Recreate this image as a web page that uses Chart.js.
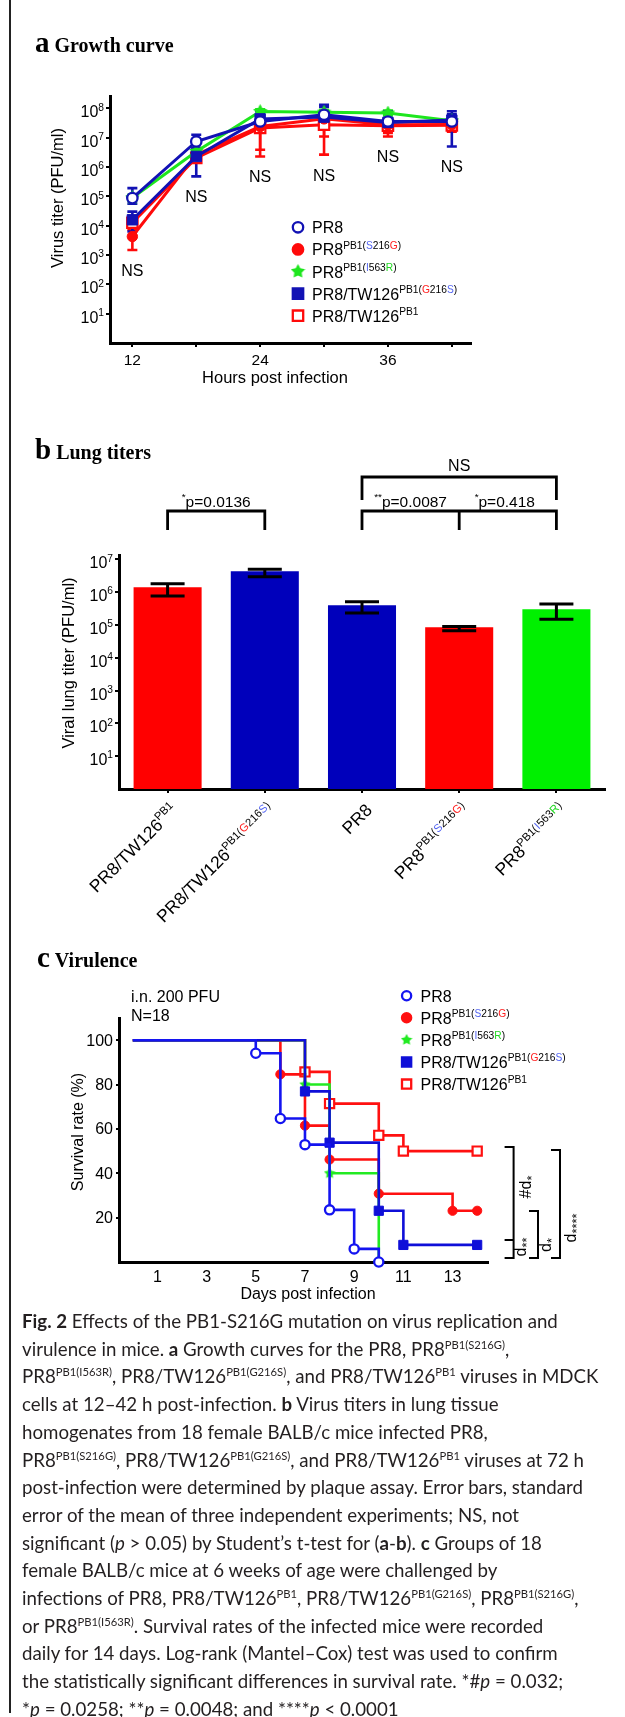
<!DOCTYPE html>
<html>
<head>
<meta charset="utf-8">
<title>Fig. 2</title>
<script src="https://cdn.jsdelivr.net/npm/chart.js@4.4.1/dist/chart.umd.min.js"></script>
<style>
  html, body { margin: 0; padding: 0; background: #fff; }
  body { position: relative; width: 625px; height: 1717px; overflow: hidden; }
  canvas { position: absolute; left: 0; }
  #frame { position: absolute; left: 9px; top: 0; width: 2px; height: 1713px; background: #222; }
  #caption { position: absolute; left: 22px; top: 1308px; margin: 0; font-family: Lato, "Open Sans", sans-serif;
             font-size: 18.7px; line-height: 27.7px; color: #231f20; white-space: pre; }
  #caption sup { font-size: 60%; line-height: 0; vertical-align: super; }
</style>
</head>
<body>
<div id="frame"></div>
<canvas id="growthChart" width="625" height="400" style="top:0px"></canvas>
<canvas id="lungChart" width="625" height="545" style="top:400px"></canvas>
<canvas id="survivalChart" width="625" height="365" style="top:945px"></canvas>
<div id="caption"><b>Fig. 2</b> Effects of the PB1-S216G mutation on virus replication and
virulence in mice. <b>a</b> Growth curves for the PR8, PR8<sup>PB1(S216G)</sup>,
PR8<sup>PB1(I563R)</sup>, PR8/TW126<sup>PB1(G216S)</sup>, and PR8/TW126<sup>PB1</sup> viruses in MDCK
cells at 12–42 h post-infection. <b>b</b> Virus titers in lung tissue
homogenates from 18 female BALB/c mice infected PR8,
PR8<sup>PB1(S216G)</sup>, PR8/TW126<sup>PB1(G216S)</sup>, and PR8/TW126<sup>PB1</sup> viruses at 72 h
post-infection were determined by plaque assay. Error bars, standard
error of the mean of three independent experiments; NS, not
significant (<i>p</i> &gt; 0.05) by Student’s t-test for (<b>a</b>-<b>b</b>). <b>c</b> Groups of 18
female BALB/c mice at 6 weeks of age were challenged by
infections of PR8, PR8/TW126<sup>PB1</sup>, PR8/TW126<sup>PB1(G216S)</sup>, PR8<sup>PB1(S216G)</sup>,
or PR8<sup>PB1(I563R)</sup>. Survival rates of the infected mice were recorded
daily for 14 days. Log-rank (Mantel–Cox) test was used to confirm
the statistically significant differences in survival rate. *#<i>p</i> = 0.032;
*<i>p</i> = 0.0258; **<i>p</i> = 0.0048; and ****<i>p</i> &lt; 0.0001</div>
<script>
// ---- panel a: growth curve, log10 titer (PFU/ml) per time point ----
const growthHours = [12, 18, 24, 30, 36, 42];
const hourTickLabels = ['12', '', '24', '', '36', ''];
const titerExponents = [1, 2, 3, 4, 5, 6, 7, 8];

const pr8Growth     = [4.94, 6.87, 7.55, 7.78, 7.55, 7.55];
const pr8GrowthLo   = [4.75, 6.65, 7.35, 7.45, 7.30, 7.30];
const pr8GrowthHi   = [5.28, 7.10, 7.75, 8.12, 7.89, 7.80];
const s216gGrowth   = [3.63, 6.42, 7.38, 7.64, 7.44, 7.45];
const s216gGrowthLo = [3.17, 6.28, 6.59, 7.04, 7.04, 7.20];
const s216gGrowthHi = [4.09, 6.56, 7.55, 7.80, 7.60, 7.60];
const i563rGrowth   = [4.95, 6.53, 7.89, 7.87, 7.84, 7.58];
const i563rGrowthLo = [4.85, 6.45, 7.80, 7.80, 7.76, 7.50];
const i563rGrowthHi = [5.05, 6.60, 7.97, 7.94, 7.92, 7.66];
const g216sGrowth   = [4.20, 6.36, 7.64, 7.70, 7.52, 7.60];
const g216sGrowthLo = [3.80, 5.68, 7.40, 7.30, 7.33, 6.70];
const g216sGrowthHi = [4.48, 6.60, 7.89, 8.05, 7.89, 7.90];
const tw126Growth   = [4.10, 6.31, 7.33, 7.44, 7.41, 7.42];
const tw126GrowthLo = [3.85, 6.25, 6.36, 6.42, 7.16, 7.25];
const tw126GrowthHi = [4.30, 6.64, 7.50, 7.60, 7.60, 7.60];

// ---- panel b: lung titers (PFU/ml) ----
const lungKeys   = ['PR8/TW126 PB1', 'PR8/TW126 PB1(G216S)', 'PR8', 'PR8 PB1(S216G)', 'PR8 PB1(I563R)'];
const lungTiter  = [1.4e6, 4.3e6, 4.0e5, 8.5e4, 3.0e5];
const lungErrLo  = [7.6e5, 2.95e6, 2.3e5, 6.6e4, 1.5e5];
const lungErrHi  = [1.8e6, 5.0e6, 5.1e5, 8.9e4, 4.3e5];
const lungExponents = [1, 2, 3, 4, 5, 6, 7];

// ---- panel c: survival (%) at each event day ----
const pr8Days    = [0, 5, 6, 7, 8, 9, 10];
const pr8Surv    = [100, 94.1, 64.7, 52.9, 23.5, 5.9, 0];
const s216gDays  = [0, 6, 7, 8, 10, 13, 14];
const s216gSurv  = [100, 84.6, 61.5, 46.2, 30.8, 23.1, 23.1];
const i563rDays  = [0, 7, 8, 10];
const i563rSurv  = [100, 80, 40, 0];
const g216sDays  = [0, 7, 8, 10, 11, 14];
const g216sSurv  = [100, 76.9, 53.8, 23.1, 7.7, 7.7];
const tw126Days  = [0, 7, 8, 10, 11, 14];
const tw126Surv  = [100, 85.7, 71.4, 57.1, 50, 50];
const survivalTicks = [20, 40, 60, 80, 100];
const dayTicks = [1, 3, 5, 7, 9, 11, 13];

// strain names, superscript parts given as [text, colour]
const SUP_BLUE = '#5566f2', SUP_RED = '#ff2020', SUP_GREEN = '#22d622';
const strainPR8   = ['PR8'];
const strainS216G = ['PR8', ['PB1('], ['S', SUP_BLUE], ['216'], ['G', SUP_RED], [')']];
const strainI563R = ['PR8', ['PB1('], ['I', SUP_BLUE], ['563'], ['R', SUP_GREEN], [')']];
const strainG216S = ['PR8/TW126', ['PB1('], ['G', SUP_RED], ['216'], ['S', SUP_BLUE], [')']];
const strainTW126 = ['PR8/TW126', ['PB1']];
const lungLabels  = [strainTW126, strainG216S, strainPR8, strainS216G, strainI563R];

const SANS = '"Liberation Sans", Arial, Helvetica, sans-serif';
const SERIF = '"Liberation Serif", "Times New Roman", serif';
Chart.defaults.font.family = SANS;

function drawRich(ctx, parts, x, y, size, align, color) {
  const runs = parts.map(p => {
    if (typeof p === 'string') return { t: p, c: null, s: size, dy: 0 };
    if (Array.isArray(p)) return { t: p[0], c: p[1] || null, s: size * 0.64, dy: -size * 0.42 };
    return { t: p.sub, c: null, s: size * 0.8, dy: size * 0.3 };
  });
  let w = 0;
  runs.forEach(r => { ctx.font = r.s + 'px ' + SANS; r.w = ctx.measureText(r.t).width; w += r.w; });
  let cx = align === 'right' ? x - w : align === 'center' ? x - w / 2 : x;
  ctx.textAlign = 'left';
  ctx.textBaseline = 'alphabetic';
  runs.forEach(r => {
    ctx.font = r.s + 'px ' + SANS;
    ctx.fillStyle = r.c || color || '#000';
    ctx.fillText(r.t, cx, y + r.dy);
    cx += r.w;
  });
}

function drawRotated(ctx, text, cx, cy, size) {
  ctx.save();
  ctx.translate(cx, cy);
  ctx.rotate(-Math.PI / 2);
  ctx.font = size + 'px ' + SANS;
  ctx.fillStyle = '#000';
  ctx.textAlign = 'center';
  ctx.textBaseline = 'middle';
  ctx.fillText(text, 0, 0);
  ctx.restore();
}

function drawPanelTitle(ctx, letter, text, x, baseline) {
  ctx.fillStyle = '#000';
  ctx.textAlign = 'left';
  ctx.textBaseline = 'alphabetic';
  ctx.font = 'bold 29px ' + SERIF;
  ctx.fillText(letter, x, baseline);
  const w = ctx.measureText(letter).width;
  ctx.font = 'bold 20px ' + SERIF;
  ctx.fillText(text, x + w + 5, baseline);
}

function makeStar(color, size) {
  const c = document.createElement('canvas');
  c.width = c.height = size;
  const g = c.getContext('2d');
  g.fillStyle = color;
  g.beginPath();
  for (let i = 0; i < 10; i++) {
    const a = -Math.PI / 2 + i * Math.PI / 5;
    const rr = i % 2 ? size * 0.26 : size * 0.5;
    g.lineTo(size / 2 + rr * Math.cos(a), size / 2 + rr * Math.sin(a));
  }
  g.closePath();
  g.fill();
  return c;
}

function pointOpts(marker, color, h, star) {
  switch (marker) {
    case 'openCircle':
      return { pointStyle: 'circle', pointRadius: h, pointBackgroundColor: '#fff', pointBorderColor: color, pointBorderWidth: 2.3 };
    case 'dot':
      return { pointStyle: 'circle', pointRadius: h, pointBackgroundColor: color, pointBorderColor: color, pointBorderWidth: 1 };
    case 'square':
      return { pointStyle: 'rect', pointRadius: h * 1.414, pointBackgroundColor: color, pointBorderColor: color, pointBorderWidth: 1 };
    case 'openSquare':
      return { pointStyle: 'rect', pointRadius: h * 1.414, pointBackgroundColor: '#fff', pointBorderColor: color, pointBorderWidth: 2.2 };
    default:
      return { pointStyle: star, pointRadius: h, pointBackgroundColor: color, pointBorderColor: color };
  }
}

function drawMarker(ctx, marker, x, y, h, color, star) {
  ctx.save();
  ctx.strokeStyle = color;
  ctx.fillStyle = color;
  ctx.lineWidth = 2.3;
  ctx.beginPath();
  if (marker === 'openCircle' || marker === 'dot') {
    ctx.arc(x, y, h, 0, Math.PI * 2);
    if (marker === 'openCircle') ctx.fillStyle = '#fff';
    ctx.fill();
    ctx.stroke();
  } else if (marker === 'square' || marker === 'openSquare') {
    ctx.rect(x - h, y - h, 2 * h, 2 * h);
    if (marker === 'openSquare') ctx.fillStyle = '#fff';
    ctx.fill();
    ctx.stroke();
  } else {
    ctx.drawImage(star, x - star.width / 2, y - star.height / 2);
  }
  ctx.restore();
}

function axisStyle(tickLength) {
  return {
    ticks: { display: false },
    grid: { display: tickLength > 0, drawOnChartArea: false, drawTicks: true, tickLength: tickLength, color: '#000', lineWidth: 2 },
    border: { display: true, color: '#000', width: 3 }
  };
}

// ================= panel a =================
const BLUE_A = '#1212b4', RED_A = '#ff0a0a', GREEN_A = '#1ee61e';
const starA = makeStar(GREEN_A, 15);
const growthSeries = [
  { name: strainPR8,   vals: pr8Growth,   lo: pr8GrowthLo,   hi: pr8GrowthHi,   color: BLUE_A,  marker: 'openCircle' },
  { name: strainG216S, vals: g216sGrowth, lo: g216sGrowthLo, hi: g216sGrowthHi, color: BLUE_A,  marker: 'square' },
  { name: strainI563R, vals: i563rGrowth, lo: i563rGrowthLo, hi: i563rGrowthHi, color: GREEN_A, marker: 'star' },
  { name: strainS216G, vals: s216gGrowth, lo: s216gGrowthLo, hi: s216gGrowthHi, color: RED_A,   marker: 'dot' },
  { name: strainTW126, vals: tw126Growth, lo: tw126GrowthLo, hi: tw126GrowthHi, color: RED_A,   marker: 'openSquare' }
];
const growthLegend = [growthSeries[0], growthSeries[3], growthSeries[2], growthSeries[1], growthSeries[4]];

const growthExtras = {
  id: 'growthExtras',
  beforeDatasetsDraw(chart) {
    const { ctx, scales: { x, y } } = chart;
    ctx.save();
    ctx.lineWidth = 2.6;
    growthSeries.slice().reverse().forEach(s => {
      ctx.strokeStyle = s.color;
      growthHours.forEach((h, i) => {
        const px = x.getPixelForValue(h);
        const y1 = y.getPixelForValue(10 ** s.lo[i]);
        const y2 = y.getPixelForValue(10 ** s.hi[i]);
        ctx.beginPath();
        ctx.moveTo(px, y1); ctx.lineTo(px, y2);
        ctx.moveTo(px - 5, y1); ctx.lineTo(px + 5, y1);
        ctx.moveTo(px - 5, y2); ctx.lineTo(px + 5, y2);
        ctx.stroke();
      });
    });
    ctx.restore();
  },
  afterDraw(chart) {
    const { ctx, scales: { x, y }, chartArea: area } = chart;
    ctx.save();
    drawPanelTitle(ctx, 'a', 'Growth curve', 35, 52);
    titerExponents.forEach(e => drawRich(ctx, ['10', [String(e)]], area.left - 6, y.getPixelForValue(10 ** e) + 9, 16, 'right'));
    ctx.font = '15.5px ' + SANS;
    ctx.fillStyle = '#000';
    ctx.textAlign = 'center';
    hourTickLabels.forEach((t, i) => { if (t) ctx.fillText(t, x.getPixelForValue(growthHours[i]), area.bottom + 22); });
    ctx.font = '16.5px ' + SANS;
    ctx.fillText('Hours post infection', 275, area.bottom + 40);
    drawRotated(ctx, 'Virus titer (PFU/ml)', 58, 198, 16.5);
    // NS under the lowest error bar of each time point
    ctx.font = '16px ' + SANS;
    ctx.textAlign = 'center';
    growthHours.forEach((h, i) => {
      const lowest = Math.min(...growthSeries.map(s => s.lo[i]));
      ctx.fillText('NS', x.getPixelForValue(h), y.getPixelForValue(10 ** lowest) + 26);
    });
    growthLegend.forEach((s, i) => {
      const base = 233.3 + 22.1 * i;
      drawMarker(ctx, s.marker, 298, base - 6, 5.2, s.color, starA);
      drawRich(ctx, s.name, 312, base, 16, 'left');
    });
    ctx.restore();
  }
};

new Chart(document.getElementById('growthChart'), {
  type: 'line',
  data: {
    datasets: growthSeries.map(s => Object.assign({
      data: growthHours.map((h, i) => ({ x: h, y: 10 ** s.vals[i] })),
      borderColor: s.color,
      borderWidth: 3,
      clip: false
    }, pointOpts(s.marker, s.color, 5.2, starA)))
  },
  options: {
    responsive: false, animation: false, events: [],
    layout: { padding: { left: 110, top: 96, right: 154, bottom: 57 } },
    plugins: { legend: { display: false }, tooltip: { enabled: false } },
    scales: {
      x: Object.assign({
        type: 'linear', min: 9.9, max: 43.8,
        afterBuildTicks: s => { s.ticks = growthHours.map(v => ({ value: v })); },
        afterFit: s => { s.height = 0; }
      }, axisStyle(4)),
      y: Object.assign({
        type: 'logarithmic', min: 1, max: 10 ** 8.42,
        afterBuildTicks: s => { s.ticks = titerExponents.map(e => ({ value: 10 ** e })); },
        afterFit: s => { s.width = 0; }
      }, axisStyle(4))
    }
  },
  plugins: [growthExtras]
});

// ================= panel b =================
const TOP_B = 400;
const lungColors = ['#ff0000', '#0000bb', '#0000bb', '#ff0000', '#00f000'];

function sigBracket(ctx, xs, yTop, yBot) {
  ctx.beginPath();
  ctx.moveTo(xs[0], yBot); ctx.lineTo(xs[0], yTop);
  ctx.lineTo(xs[xs.length - 1], yTop); ctx.lineTo(xs[xs.length - 1], yBot);
  for (let i = 1; i < xs.length - 1; i++) { ctx.moveTo(xs[i], yTop); ctx.lineTo(xs[i], yBot); }
  ctx.stroke();
}

const lungExtras = {
  id: 'lungExtras',
  afterDatasetsDraw(chart) {
    const { ctx, scales: { x, y } } = chart;
    ctx.save();
    ctx.strokeStyle = '#000';
    ctx.lineWidth = 3;
    lungTiter.forEach((v, i) => {
      const px = x.getPixelForValue(i);
      const y1 = y.getPixelForValue(lungErrLo[i]);
      const y2 = y.getPixelForValue(lungErrHi[i]);
      ctx.beginPath();
      ctx.moveTo(px, y1); ctx.lineTo(px, y2);
      ctx.moveTo(px - 17, y1); ctx.lineTo(px + 17, y1);
      ctx.moveTo(px - 17, y2); ctx.lineTo(px + 17, y2);
      ctx.stroke();
    });
    ctx.restore();
  },
  afterDraw(chart) {
    const { ctx, scales: { x, y }, chartArea: area } = chart;
    const py = v => v - TOP_B;
    ctx.save();
    drawPanelTitle(ctx, 'b', 'Lung titers', 35, py(459));
    lungExponents.forEach(e => drawRich(ctx, ['10', [String(e)]], area.left - 6, y.getPixelForValue(10 ** e) + 9, 16, 'right'));
    drawRotated(ctx, 'Viral lung titer (PFU/ml)', 69, py(663), 16.5);
    lungLabels.forEach((lab, i) => {
      ctx.save();
      ctx.translate(x.getPixelForValue(i) + 7, area.bottom + 18);
      ctx.rotate(-Math.PI / 4);
      drawRich(ctx, lab, 0, 6, 17.5, 'right');
      ctx.restore();
    });
    // significance brackets
    const cx = lungTiter.map((v, i) => x.getPixelForValue(i));
    ctx.strokeStyle = '#000';
    ctx.lineWidth = 2.8;
    sigBracket(ctx, [cx[0], cx[1]], py(511), py(530));
    sigBracket(ctx, [cx[2], cx[3], cx[4]], py(511), py(530));
    sigBracket(ctx, [cx[2], cx[4]], py(477), py(500));
    drawRich(ctx, [['*'], 'p=0.0136'], (cx[0] + cx[1]) / 2, py(507), 15.5, 'center');
    drawRich(ctx, [['**'], 'p=0.0087'], (cx[2] + cx[3]) / 2, py(507), 15.5, 'center');
    drawRich(ctx, [['*'], 'p=0.418'], (cx[3] + cx[4]) / 2 - 3, py(507), 15.5, 'center');
    drawRich(ctx, ['NS'], (cx[2] + cx[4]) / 2, py(471), 16, 'center');
    ctx.restore();
  }
};

new Chart(document.getElementById('lungChart'), {
  type: 'bar',
  data: {
    labels: lungKeys,
    datasets: [{ data: lungTiter, backgroundColor: lungColors, borderWidth: 0, barPercentage: 0.7, categoryPercentage: 1 }]
  },
  options: {
    responsive: false, animation: false, events: [],
    layout: { padding: { left: 119, top: 155, right: 20, bottom: 156 } },
    plugins: { legend: { display: false }, tooltip: { enabled: false } },
    scales: {
      x: Object.assign({ type: 'category', afterFit: s => { s.height = 0; } }, axisStyle(4),
        { grid: { offset: false, drawOnChartArea: false, drawTicks: true, tickLength: 4, color: '#000', lineWidth: 2 } }),
      y: Object.assign({
        type: 'logarithmic', min: 1, max: 10 ** 7.13,
        afterBuildTicks: s => { s.ticks = lungExponents.map(e => ({ value: 10 ** e })); },
        afterFit: s => { s.width = 0; }
      }, axisStyle(4))
    }
  },
  plugins: [lungExtras]
});

// ================= panel c =================
const TOP_C = 945;
const BLUE_C = '#1414f0', RED_C = '#ff1010', GREEN_C = '#22ea22';
const starC = makeStar(GREEN_C, 12);
const survivalSeries = [
  { name: strainPR8,   days: pr8Days,   surv: pr8Surv,   color: BLUE_C,  marker: 'openCircle' },
  { name: strainG216S, days: g216sDays, surv: g216sSurv, color: '#0f0fd8', marker: 'square' },
  { name: strainI563R, days: i563rDays, surv: i563rSurv, color: GREEN_C, marker: 'star' },
  { name: strainS216G, days: s216gDays, surv: s216gSurv, color: RED_C,   marker: 'dot' },
  { name: strainTW126, days: tw126Days, surv: tw126Surv, color: RED_C,   marker: 'openSquare' }
];
const survivalLegend = [survivalSeries[0], survivalSeries[3], survivalSeries[2], survivalSeries[1], survivalSeries[4]];

function sideBracket(ctx, xv, yTop, yBot, mids) {
  ctx.beginPath();
  ctx.moveTo(xv - 9, yTop); ctx.lineTo(xv, yTop); ctx.lineTo(xv, yBot); ctx.lineTo(xv - 9, yBot);
  (mids || []).forEach(m => { ctx.moveTo(xv - 9, m); ctx.lineTo(xv, m); });
  ctx.stroke();
}

function rotatedRich(ctx, parts, cx, cy) {
  ctx.save();
  ctx.translate(cx, cy);
  ctx.rotate(-Math.PI / 2);
  drawRich(ctx, parts, 0, 5, 16, 'center');
  ctx.restore();
}

const survivalExtras = {
  id: 'survivalExtras',
  afterDraw(chart) {
    const { ctx, scales: { x, y }, chartArea: area } = chart;
    const py = v => v - TOP_C;
    ctx.save();
    drawPanelTitle(ctx, 'c', 'Virulence', 37, py(967));
    ctx.font = '16px ' + SANS;
    ctx.fillStyle = '#000';
    ctx.textAlign = 'left';
    ctx.fillText('i.n. 200 PFU', 131, py(1001.7));
    ctx.fillText('N=18', 131, py(1020.7));
    ctx.font = '16px ' + SANS;
    ctx.textAlign = 'right';
    survivalTicks.forEach(v => ctx.fillText(String(v), area.left - 6, y.getPixelForValue(v) + 5.5));
    ctx.textAlign = 'center';
    dayTicks.forEach(d => ctx.fillText(String(d), x.getPixelForValue(d), area.bottom + 20));
    ctx.font = '16px ' + SANS;
    ctx.fillText('Days post infection', 308, area.bottom + 37);
    drawRotated(ctx, 'Survival rate (%)', 79, py(1132), 16);
    survivalLegend.forEach((s, i) => {
      const base = py(1001.7 + 22.1 * i);
      drawMarker(ctx, s.marker, 406.6, base - 6, 4.6, s.color, starC);
      drawRich(ctx, s.name, 420.5, base, 16, 'left');
    });
    // log-rank comparison brackets
    ctx.strokeStyle = '#000';
    ctx.lineWidth = 2;
    sideBracket(ctx, 513.6, py(1147), py(1258), [py(1240)]);
    sideBracket(ctx, 538, py(1211), py(1258));
    sideBracket(ctx, 560, py(1150), py(1258));
    rotatedRich(ctx, ['#d', { sub: '*' }], 526, py(1187));
    rotatedRich(ctx, ['d', { sub: '**' }], 521, py(1247));
    rotatedRich(ctx, ['d', { sub: '*' }], 546, py(1245));
    rotatedRich(ctx, ['d', { sub: '****' }], 571, py(1228));
    ctx.restore();
  }
};

new Chart(document.getElementById('survivalChart'), {
  type: 'line',
  data: {
    datasets: survivalSeries.map(s => {
      const p = pointOpts(s.marker, s.color, 4.6, starC);
      const r = p.pointRadius;
      return Object.assign(p, {
        data: s.days.map((d, i) => ({ x: d, y: s.surv[i] })),
        borderColor: s.color,
        borderWidth: 2.6,
        stepped: true,
        clip: false,
        pointRadius: c => (c.dataIndex === 0 ? 0 : r)
      });
    })
  },
  options: {
    responsive: false, animation: false, events: [],
    layout: { padding: { left: 119, top: 73, right: 137, bottom: 48 } },
    plugins: { legend: { display: false }, tooltip: { enabled: false } },
    scales: {
      x: Object.assign({
        type: 'linear', min: -0.56, max: 14.44,
        afterBuildTicks: s => { s.ticks = dayTicks.map(v => ({ value: v })); },
        afterFit: s => { s.height = 0; }
      }, axisStyle(0)),
      y: Object.assign({
        type: 'linear', min: 0, max: 110,
        afterBuildTicks: s => { s.ticks = survivalTicks.map(v => ({ value: v })); },
        afterFit: s => { s.width = 0; }
      }, axisStyle(3))
    }
  },
  plugins: [survivalExtras]
});
</script>
</body>
</html>
